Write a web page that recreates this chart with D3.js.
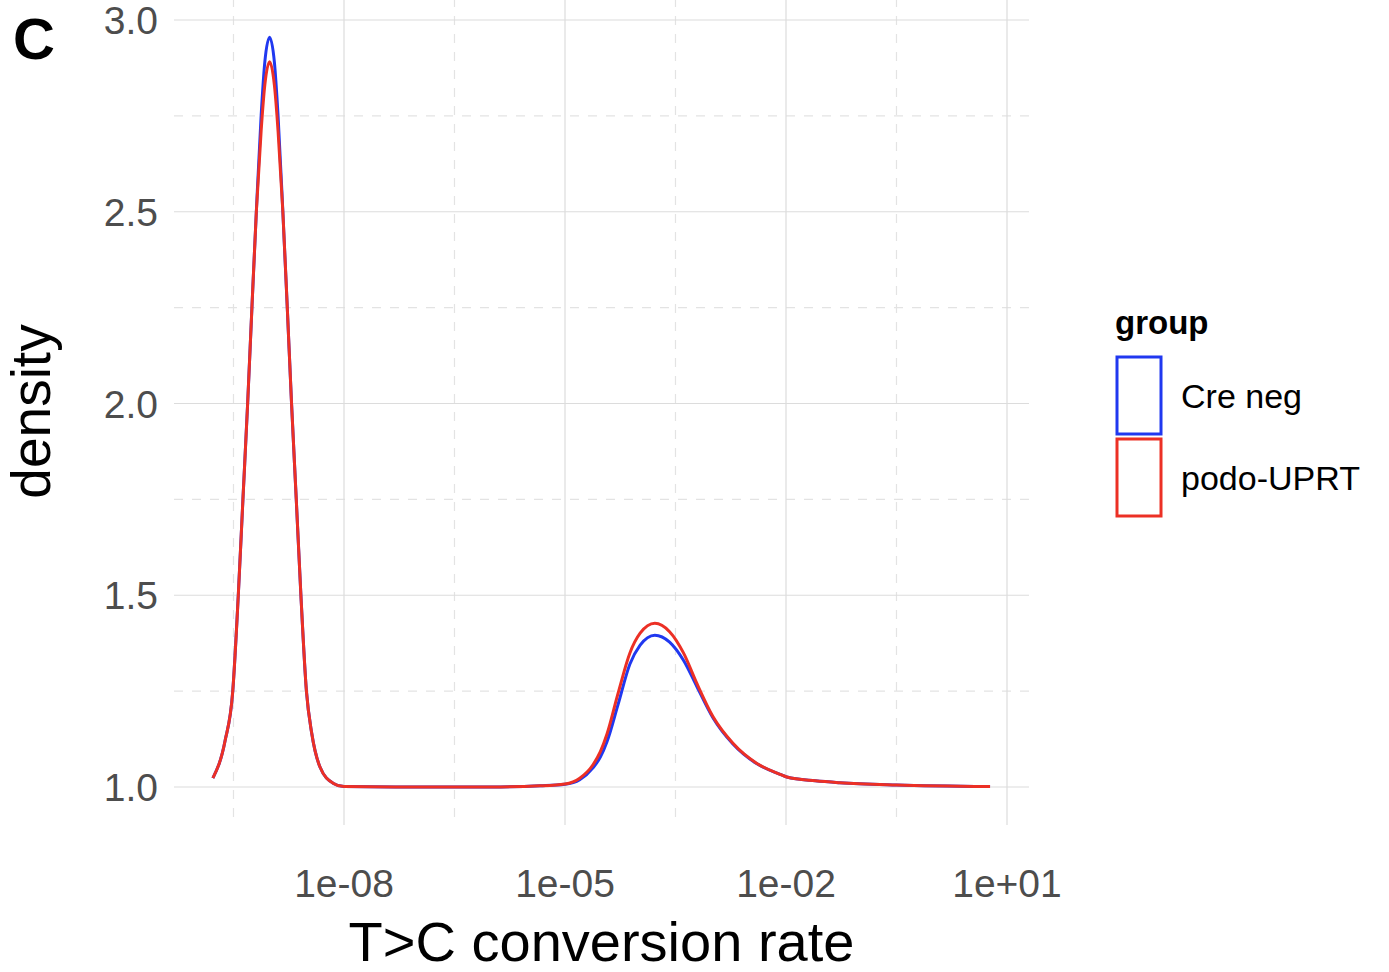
<!DOCTYPE html>
<html>
<head>
<meta charset="utf-8">
<script src="https://cdn.jsdelivr.net/npm/d3@7"></script>
<style>
  body { margin: 0; background: #fff; }
  svg text { font-family: "Liberation Sans", Arial, Helvetica, sans-serif; }
</style>
</head>
<body>
<div id="chart"></div>
<script>
// log10 of the T>C conversion rate, shared by both groups
var logRate = [-9.78, -9.615, -9.51, -9.435, -9.372, -9.308, -9.25, -9.19, -9.125, -9.075, -9.01,
    -8.945, -8.895, -8.83, -8.77, -8.712, -8.648, -8.585, -8.51, -8.438, -8.326, -8.149, -8.0,
    -7.0, -6.0, -5.34, -5.0, -4.80, -4.62, -4.52, -4.43, -4.28, -4.12, -3.98, -3.78, -3.58, -3.39,
    -3.21, -2.99, -2.72, -2.40, -2.08, -1.99, -1.60, -1.27, -0.50, 0.77];

var creNeg = [1.023, 1.12, 1.25, 1.50, 1.75, 2.00, 2.25, 2.50, 2.75, 2.89, 2.955,
    2.89, 2.75, 2.50, 2.25, 2.00, 1.75, 1.50, 1.25, 1.14, 1.052, 1.010, 1.001,
    1.0, 1.0, 1.003, 1.007, 1.019, 1.050, 1.078, 1.118, 1.215, 1.32, 1.37, 1.396, 1.378, 1.33,
    1.262, 1.18, 1.112, 1.061, 1.033, 1.026, 1.016, 1.011, 1.005, 1.001];

var podoUPRT = [1.023, 1.12, 1.25, 1.50, 1.75, 2.00, 2.25, 2.50, 2.71, 2.83, 2.891,
    2.83, 2.71, 2.50, 2.25, 2.00, 1.75, 1.50, 1.25, 1.14, 1.052, 1.010, 1.001,
    1.0, 1.0, 1.003, 1.008, 1.023, 1.058, 1.092, 1.138, 1.244, 1.349, 1.401, 1.427, 1.405, 1.349,
    1.27, 1.183, 1.114, 1.062, 1.033, 1.026, 1.016, 1.011, 1.005, 1.001];

var groups = ["Cre neg", "podo-UPRT"];
var groupColors = ["#2038f0", "#ec3025"];
var xMajor = [-11, -8, -5, -2, 1];
var xMinor = [-9.5, -6.5, -3.5, -0.5];
var yMajor = [1.0, 1.5, 2.0, 2.5, 3.0];
var yMinor = [1.25, 1.75, 2.25, 2.75];

var W = 1389, H = 972;
var panel = { left: 174, right: 1029, top: -2, bottom: 825 };

var svg = d3.select("#chart").append("svg")
    .attr("width", W)
    .attr("height", H);

var x = d3.scaleLinear().domain([-8, 1]).range([344, 1007]);
var y = d3.scaleLinear().domain([1, 3]).range([787, 20]);

var grid = svg.append("g");

// minor grid (dashed)
grid.selectAll(".vminor").data(xMinor).enter().append("line")
    .attr("x1", function (d) { return x(d); }).attr("x2", function (d) { return x(d); })
    .attr("y1", panel.top).attr("y2", panel.bottom)
    .attr("stroke", "#e3e3e3").attr("stroke-width", 1.2).attr("stroke-dasharray", "9,9");
grid.selectAll(".hminor").data(yMinor).enter().append("line")
    .attr("x1", panel.left).attr("x2", panel.right)
    .attr("y1", function (d) { return y(d); }).attr("y2", function (d) { return y(d); })
    .attr("stroke", "#e3e3e3").attr("stroke-width", 1.2).attr("stroke-dasharray", "9,9");

// major grid
grid.selectAll(".vmajor").data(xMajor.filter(function (d) { return x(d) >= panel.left; })).enter().append("line")
    .attr("x1", function (d) { return x(d); }).attr("x2", function (d) { return x(d); })
    .attr("y1", panel.top).attr("y2", panel.bottom)
    .attr("stroke", "#dcdcdc").attr("stroke-width", 1.2);
grid.selectAll(".hmajor").data(yMajor).enter().append("line")
    .attr("x1", panel.left).attr("x2", panel.right)
    .attr("y1", function (d) { return y(d); }).attr("y2", function (d) { return y(d); })
    .attr("stroke", "#dcdcdc").attr("stroke-width", 1.2);

// density lines
var line = d3.line()
    .x(function (d) { return x(d[0]); })
    .y(function (d) { return y(d[1]); })
    .curve(d3.curveMonotoneX);

[creNeg, podoUPRT].forEach(function (vals, i) {
    svg.append("path")
        .datum(logRate.map(function (lr, j) { return [lr, vals[j]]; }))
        .attr("fill", "none")
        .attr("stroke", groupColors[i])
        .attr("stroke-width", 3)
        .attr("stroke-linejoin", "round")
        .attr("d", line);
});

// axes text
function fmtExp(e) {
    var s = Math.abs(e) < 10 ? "0" + Math.abs(e) : "" + Math.abs(e);
    return "1e" + (e < 0 ? "-" : "+") + s;
}

svg.selectAll(".xtick").data(xMajor.filter(function (d) { return x(d) >= panel.left; })).enter().append("text")
    .attr("x", function (d) { return x(d); })
    .attr("y", 897)
    .attr("text-anchor", "middle")
    .attr("font-size", 39)
    .attr("fill", "#4d4d4d")
    .text(fmtExp);

svg.selectAll(".ytick").data(yMajor).enter().append("text")
    .attr("x", 158)
    .attr("y", function (d) { return y(d); })
    .attr("dy", "0.36em")
    .attr("text-anchor", "end")
    .attr("font-size", 39)
    .attr("fill", "#4d4d4d")
    .text(d3.format(".1f"));

svg.append("text")
    .attr("x", (panel.left + panel.right) / 2)
    .attr("y", 961)
    .attr("text-anchor", "middle")
    .attr("font-size", 56)
    .attr("fill", "#000")
    .text("T>C conversion rate");

svg.append("text")
    .attr("transform", "translate(50," + ((panel.top + panel.bottom) / 2) + ") rotate(-90)")
    .attr("text-anchor", "middle")
    .attr("font-size", 55)
    .attr("fill", "#000")
    .text("density");

// panel tag
svg.append("text")
    .attr("x", 13)
    .attr("y", 59)
    .attr("font-size", 58)
    .attr("font-weight", "bold")
    .attr("fill", "#000")
    .text("C");

// legend
var legend = svg.append("g");
legend.append("text")
    .attr("x", 1115).attr("y", 334)
    .attr("font-size", 33)
    .attr("font-weight", "bold")
    .text("group");

groups.forEach(function (g, i) {
    legend.append("rect")
        .attr("x", 1117).attr("y", 357 + i * 82)
        .attr("width", 44).attr("height", 77)
        .attr("fill", "none")
        .attr("stroke", groupColors[i])
        .attr("stroke-width", 3);
    legend.append("text")
        .attr("x", 1181).attr("y", 408 + i * 82)
        .attr("font-size", 34)
        .attr("fill", "#000")
        .text(g);
});
</script>
</body>
</html>
